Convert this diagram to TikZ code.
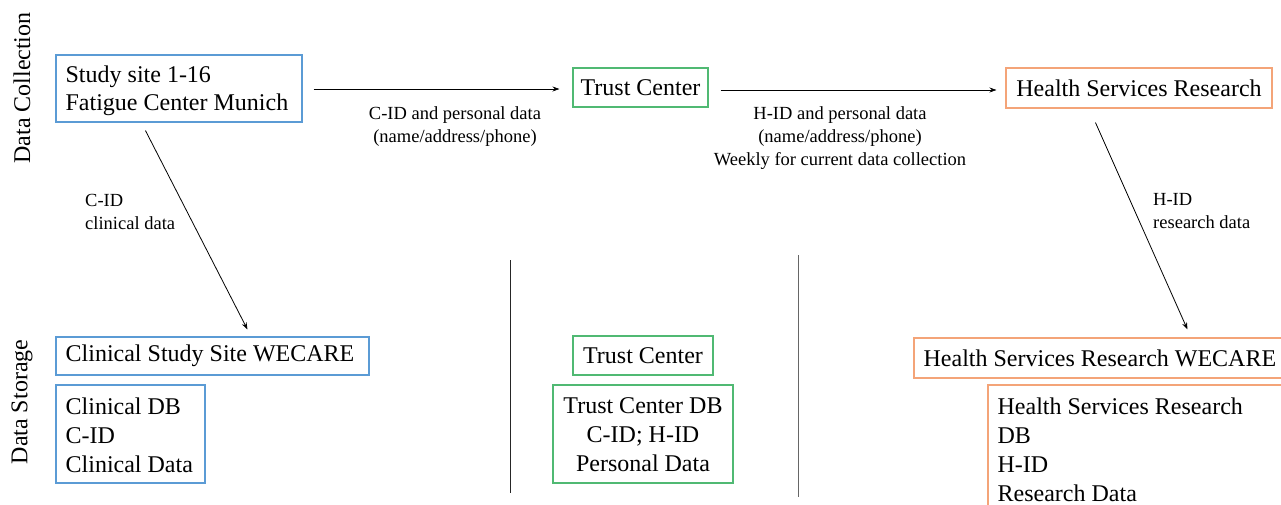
\documentclass[tikz,border=0pt]{standalone}
\usepackage{fontspec}
\setmainfont{Liberation Serif}
\usetikzlibrary{arrows.meta,calc}
\definecolor{siteblue}{RGB}{91,155,213}
\definecolor{trustgreen}{RGB}{80,185,115}
\definecolor{hsrorange}{RGB}{244,164,120}
\tikzset{
  frame/.style={draw, line width=1.1pt, inner sep=0pt},
  txt/.style={font=\fontsize{24}{29}\selectfont, inner sep=0pt},
  lefttxt/.style={txt, align=left, anchor=west},
  lbl/.style={font=\fontsize{18.5}{23}\selectfont, inner sep=0pt},
  side/.style={rotate=90, font=\fontsize{24}{28}\selectfont},
  flow/.style={-{Stealth[length=7pt,width=5pt]}, line width=0.8pt},
  divider/.style={line width=1pt}
}
\begin{document}
\begin{tikzpicture}[x=1pt,y=-1pt]
\useasboundingbox (0,0) rectangle (1281,504);

% phase captions
\node[side] (collect) at (22,88) {Data Collection};
\node[side] (store) at (22,402) {Data Storage};

% data collection row
\node[frame, draw=siteblue, minimum width=246pt, minimum height=67pt] (study)
  at (179,88.5) {};
\node[lefttxt, font=\fontsize{24}{28}\selectfont] (studyt)
  at ($(study.west)+(10,2.5)$) {Study site 1-16\\Fatigue Center Munich};
\node[frame, txt, draw=trustgreen, minimum width=135pt, minimum height=39pt]
  (trust1) at (640.5,87.5) {Trust Center};
\node[frame, txt, draw=hsrorange, minimum width=266pt, minimum height=40pt]
  (hsr1) at (1139,88) {Health Services Research};

% data storage row
\node[frame, draw=siteblue, minimum width=313pt, minimum height=38pt]
  (cwecare) at (212.5,356) {};
\node[lefttxt] (cwecaret) at ($(cwecare.west)+(10,0)$)
  {Clinical Study Site WECARE};
\node[frame, draw=siteblue, minimum width=149pt, minimum height=98pt]
  (cdb) at (130.5,434) {};
\node[lefttxt] (cdbt) at ($(cdb.west)+(10,1)$)
  {Clinical DB\\C-ID\\Clinical Data};
\node[frame, txt, draw=trustgreen, minimum width=140pt, minimum height=39pt]
  (trust2) at (643,355.5) {Trust Center};
\node[frame, draw=trustgreen, minimum width=180pt, minimum height=98pt]
  (tdb) at (643,434) {};
\node[txt, align=center] (tdbt) at ($(tdb.center)+(0,1)$)
  {Trust Center DB\\C-ID; H-ID\\Personal Data};
\node[frame, draw=hsrorange, minimum width=376pt, minimum height=40pt]
  (hwecare) at (1102,358) {};
\node[lefttxt] (hwecaret) at ($(hwecare.west)+(10,0)$)
  {Health Services Research WECARE};
\node[frame, draw=hsrorange, minimum width=312pt, minimum height=129pt]
  (hdb) at (1144,449.5) {};
\node[lefttxt] (hdbt) at ($(hdb.west)+(10,0)$)
  {Health Services Research\\DB\\H-ID\\Research Data};

% transfers
\draw[flow] ($(study.east)+(11,0.5)$) -- ($(trust1.west)+(-13,1.5)$);
\draw[flow] ($(trust1.east)+(12,2.5)$) -- ($(hsr1.west)+(-9,2)$);
\draw[flow] ($(study.south west)+(90,8)$) -- ($(cwecare.north west)+(192,-7)$);
\draw[flow] ($(hsr1.south west)+(90,14)$) -- ($(hwecare.north west)+(274,-8)$);

% transfer labels
\node[lbl, align=center] (l1) at (455,126.5)
  {C-ID and personal data\\(name/address/phone)};
\node[lbl, align=center] (l2) at (840,138)
  {H-ID and personal data\\(name/address/phone)\\Weekly for current data collection};
\node[lbl, align=left, anchor=west] (l3) at (85,211.5) {C-ID\\clinical data};
\node[lbl, align=left, anchor=west] (l4) at (1153,211.5) {H-ID\\research data};

% column separators
\draw[divider, black!85] (510,260) -- (510,493);
\draw[divider, black!60] (798,255) -- (798,497);
\end{tikzpicture}
\end{document}
